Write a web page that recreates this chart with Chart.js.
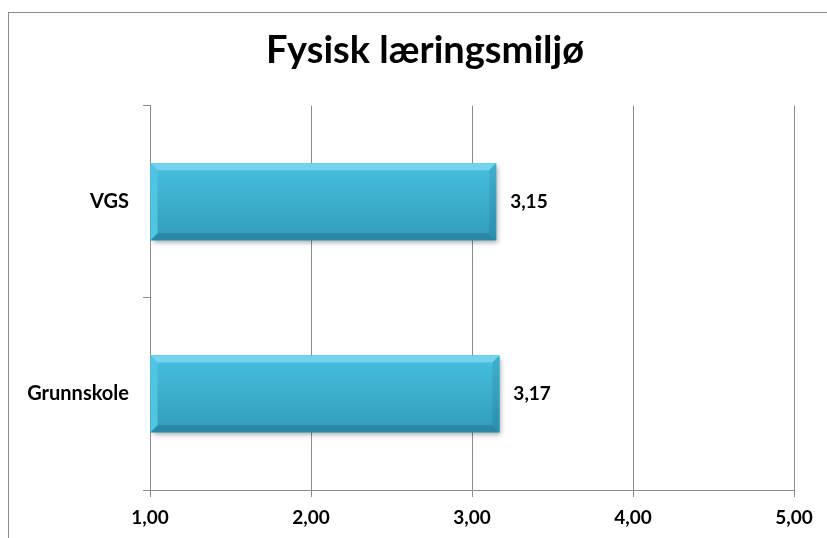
<!DOCTYPE html>
<html lang="no">

<head>
	<meta charset="UTF-8">
	<title>Fysisk læringsmiljø</title>
	<style>
		html, body {
			margin: 0;
			padding: 0;
			background: #fff;
			overflow: hidden;
		}

		#wrap {
			position: absolute;
			left: 0;
			top: 0;
			width: 850px;
			height: 538px;
		}

		#frame {
			position: absolute;
			left: 8px;
			top: 12px;
			width: 900px;
			height: 600px;
			border: 1px solid #8c8c8c;
			pointer-events: none;
		}
	</style>
</head>

<body>
	<div id="wrap"><canvas id="chart"></canvas></div>
	<div id="frame"></div>
	<script src="https://cdn.jsdelivr.net/npm/chart.js"></script>
	<script>
		const categories = ['VGS', 'Grunnskole'];
		const values = [3.15, 3.17];
		const axisMin = 1;
		const axisMax = 5;
		const titleText = 'Fysisk læringsmiljø';

		const fontFamily = 'Lato, "Open Sans", sans-serif';
		const gridColor = '#8c8c8c';

		function fmt(v) {
			return Number(v).toFixed(2).replace('.', ',');
		}

		// soft shadow under the bars, then bevel and value labels on top
		const bevelBars = {
			id: 'bevelBars',
			beforeDatasetsDraw(chart) {
				const ctx = chart.ctx;
				ctx.save();
				ctx.shadowColor = 'rgba(0,0,0,0.35)';
				ctx.shadowBlur = 5;
				ctx.shadowOffsetX = 2;
				ctx.shadowOffsetY = 3;
			},
			afterDatasetsDraw(chart) {
				const ctx = chart.ctx;
				ctx.restore();
				const area = chart.chartArea;
				const meta = chart.getDatasetMeta(0);
				meta.data.forEach((bar, i) => {
					const p = bar.getProps(['x', 'y', 'base', 'height'], true);
					const left = Math.max(Math.min(p.base, p.x), area.left);
					const right = Math.max(p.base, p.x);
					const top = p.y - p.height / 2;
					const bottom = p.y + p.height / 2;
					const b = 7;

					ctx.save();
					// body
					const g = ctx.createLinearGradient(0, top, 0, bottom);
					g.addColorStop(0, '#46c0df');
					g.addColorStop(1, '#339bbb');
					ctx.fillStyle = g;
					ctx.fillRect(left, top, right - left, bottom - top);

					// top bevel
					ctx.fillStyle = '#72d4ee';
					ctx.beginPath();
					ctx.moveTo(left, top);
					ctx.lineTo(right, top);
					ctx.lineTo(right - b, top + b);
					ctx.lineTo(left + b, top + b);
					ctx.closePath();
					ctx.fill();

					// bottom bevel
					ctx.fillStyle = '#2b87a5';
					ctx.beginPath();
					ctx.moveTo(left, bottom);
					ctx.lineTo(right, bottom);
					ctx.lineTo(right - b, bottom - b);
					ctx.lineTo(left + b, bottom - b);
					ctx.closePath();
					ctx.fill();

					// right bevel
					const gr = ctx.createLinearGradient(0, top, 0, bottom);
					gr.addColorStop(0, '#3fb0d0');
					gr.addColorStop(1, '#2c8eac');
					ctx.fillStyle = gr;
					ctx.beginPath();
					ctx.moveTo(right, top);
					ctx.lineTo(right, bottom);
					ctx.lineTo(right - b, bottom - b);
					ctx.lineTo(right - b, top + b);
					ctx.closePath();
					ctx.fill();

					// left bevel
					ctx.fillStyle = '#50c5e3';
					ctx.beginPath();
					ctx.moveTo(left, top);
					ctx.lineTo(left, bottom);
					ctx.lineTo(left + b, bottom - b);
					ctx.lineTo(left + b, top + b);
					ctx.closePath();
					ctx.fill();

					// value label
					ctx.fillStyle = '#000';
					ctx.font = 'bold 19px ' + fontFamily;
					ctx.textAlign = 'left';
					ctx.textBaseline = 'middle';
					ctx.fillText(fmt(values[i]), right + 14, p.y);
					ctx.restore();
				});
			}
		};

		const ctx = document.getElementById('chart').getContext('2d');
		new Chart(ctx, {
			type: 'bar',
			data: {
				labels: categories,
				datasets: [{
					data: values,
					base: axisMin,
					backgroundColor: '#3bb3d4',
					borderWidth: 0,
					barPercentage: 0.8,
					categoryPercentage: 0.5
				}]
			},
			options: {
				indexAxis: 'y',
				responsive: true,
				maintainAspectRatio: false,
				animation: false,
				layout: {
					padding: 0
				},
				plugins: {
					legend: { display: false },
					tooltip: { enabled: false },
					title: {
						display: true,
						text: titleText,
						color: '#000',
						font: { family: fontFamily, size: 38, weight: 'bold', lineHeight: 1.2 },
						padding: { top: 28, bottom: 32 }
					}
				},
				scales: {
					x: {
						min: axisMin,
						max: axisMax,
						afterFit(scale) {
							scale.height = 48;
							scale.paddingRight = 56;
						},
						ticks: {
							stepSize: 1,
							color: '#000',
							padding: 9,
							font: { family: fontFamily, size: 19, weight: 'bold' },
							callback: v => fmt(v)
						},
						grid: {
							color: gridColor,
							lineWidth: 1,
							tickLength: 7
						},
						border: { color: gridColor, width: 1 }
					},
					y: {
						afterFit(scale) { scale.width = 150; },
						ticks: {
							color: '#000',
							padding: 14,
							font: { family: fontFamily, size: 20, weight: 'bold' }
						},
						grid: {
							offset: true,
							drawOnChartArea: false,
							color: gridColor,
							tickLength: 7
						},
						border: { color: gridColor, width: 1 }
					}
				}
			},
			plugins: [bevelBars]
		});
	</script>
</body>

</html>
